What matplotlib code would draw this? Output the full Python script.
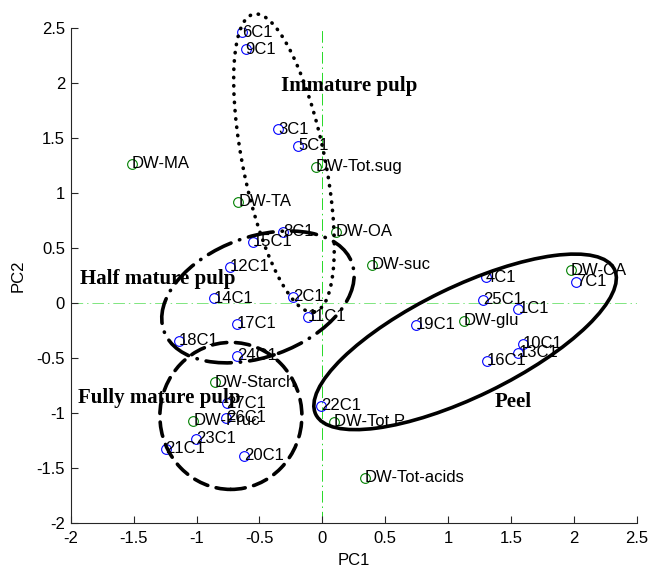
import matplotlib
matplotlib.use('Agg')
import matplotlib.pyplot as plt
from matplotlib.patches import Ellipse
from matplotlib import transforms

plt.rcParams['font.family'] = ['Liberation Sans', 'DejaVu Sans']

# ---- data ----
sample_labels = ['1C1', '2C1', '3C1', '4C1', '5C1', '6C1', '7C1', '8C1', '9C1',
                 '10C1', '11C1', '12C1', '13C1', '14C1', '15C1', '16C1', '17C1',
                 '18C1', '19C1', '20C1', '21C1', '22C1', '23C1', '24C1', '25C1',
                 '26C1', '27C1']
sample_pc1 = [1.557, -0.236, -0.35, 1.30, -0.19, -0.637, 2.013, -0.31, -0.61,
              1.592, -0.117, -0.734, 1.557, -0.862, -0.554, 1.306, -0.681,
              -1.138, 0.744, -0.621, -1.246, -0.011, -1.005, -0.681, 1.274,
              -0.766, -0.761]
sample_pc2 = [-0.054, 0.058, 1.583, 0.234, 1.43, 2.464, 0.194, 0.649, 2.31,
              -0.373, -0.124, 0.331, -0.452, 0.043, 0.558, -0.525, -0.19,
              -0.343, -0.2, -1.392, -1.328, -0.937, -1.237, -0.482, 0.028,
              -1.043, -0.912]

var_labels = ['DW-MA', 'DW-Tot.sug', 'DW-TA', 'DW-OA', 'DW-suc', 'DW-CA',
              'DW-glu', 'DW-Starch', 'DW-Fruc', 'DW-Tot P', 'DW-Tot-acids']
var_pc1 = [-1.516, -0.05, -0.668, 0.108, 0.392, 1.976, 1.126, -0.854, -1.026,
           0.092, 0.339]
var_pc2 = [1.265, 1.24, 0.922, 0.649, 0.346, 0.30, -0.164, -0.722, -1.073,
           -1.08, -1.59]

group_labels = ['Immature pulp', 'Half mature pulp', 'Fully mature pulp', 'Peel']
group_label_x = [-0.331, -1.926, -1.943, 1.372]
group_label_y = [1.932, 0.173, -0.912, -0.943]   # baselines

# ellipse outlines (centre in data units, size in pixels at 100 dpi)
ell_cx = [-0.305, -0.512, -0.727, 1.134]
ell_cy = [1.274, 0.055, -1.028, -0.354]
ell_w_px = [82, 200, 142, 332]
ell_h_px = [304, 120, 147, 110]
ell_angle = [11.5, 20, 0, 25.9]
ell_style = [(0, (0.1, 2.2)), (0, (7, 2.5, 0.1, 2.5)), (0, (4, 2.4)), '-']

xticks = [-2, -1.5, -1, -0.5, 0, 0.5, 1, 1.5, 2, 2.5]
yticks = [-2, -1.5, -1, -0.5, 0, 0.5, 1, 1.5, 2, 2.5]

# ---- figure ----
fig = plt.figure(figsize=(6.52, 5.71), dpi=100)
ax = fig.add_axes([0.1084, 0.0846, 0.977 - 0.1084, 0.9504 - 0.0846])
ax.set_xlim(-2, 2.5)
ax.set_ylim(-2, 2.5)

ax.axvline(0, color=(0.15, 0.85, 0.15), lw=0.7, linestyle=(0, (12, 4, 1.5, 4)), zorder=1)
ax.axhline(0, color=(0.5, 0.9, 0.5), lw=0.7, linestyle=(0, (12, 4, 1.5, 4)), zorder=1)

ax.plot(sample_pc1, sample_pc2, linestyle='none', marker='o', markersize=7,
        markerfacecolor='none', markeredgecolor='#0000ff', markeredgewidth=0.8,
        zorder=3)
ax.plot(var_pc1, var_pc2, linestyle='none', marker='o', markersize=7,
        markerfacecolor='none', markeredgecolor='#008000', markeredgewidth=0.8,
        zorder=3)

for lab, x, y in zip(sample_labels, sample_pc1, sample_pc2):
    ax.text(x, y, lab, ha='left', va='center', fontsize=12, color='black', zorder=4)
for lab, x, y in zip(var_labels, var_pc1, var_pc2):
    ax.text(x, y, lab, ha='left', va='center', fontsize=12, color='black', zorder=4)

for cx, cy, w, h, a, ls in zip(ell_cx, ell_cy, ell_w_px, ell_h_px, ell_angle, ell_style):
    trans = fig.dpi_scale_trans + transforms.ScaledTranslation(cx, cy, ax.transData)
    e = Ellipse((0, 0), w / 100.0, h / 100.0, angle=a, transform=trans,
                fill=False, edgecolor='black', lw=2.6, linestyle=ls, zorder=5,
                clip_on=False)
    e.set_capstyle('round')
    ax.add_patch(e)

for lab, x, y in zip(group_labels, group_label_x, group_label_y):
    ax.text(x, y, lab, ha='left', va='baseline', fontsize=15, fontweight='bold',
            family=['Liberation Serif', 'DejaVu Serif'], zorder=6)

ax.set_xticks(xticks)
ax.set_yticks(yticks)
ax.set_xticklabels(['%g' % t for t in xticks])
ax.set_yticklabels(['%g' % t for t in yticks])
ax.tick_params(direction='in', length=5, width=0.8, labelsize=12, colors='#262626',
               labelcolor='black')
ax.tick_params(axis='x', pad=6)
ax.tick_params(axis='y', pad=4)
for s in ['top', 'right']:
    ax.spines[s].set_visible(False)
for s in ['left', 'bottom']:
    ax.spines[s].set_color('#262626')
    ax.spines[s].set_linewidth(0.8)

ax.set_xlabel('PC1', fontsize=12, labelpad=5)
ax.set_ylabel('PC2', fontsize=12, labelpad=8)

fig.savefig('out.png', dpi=100)
